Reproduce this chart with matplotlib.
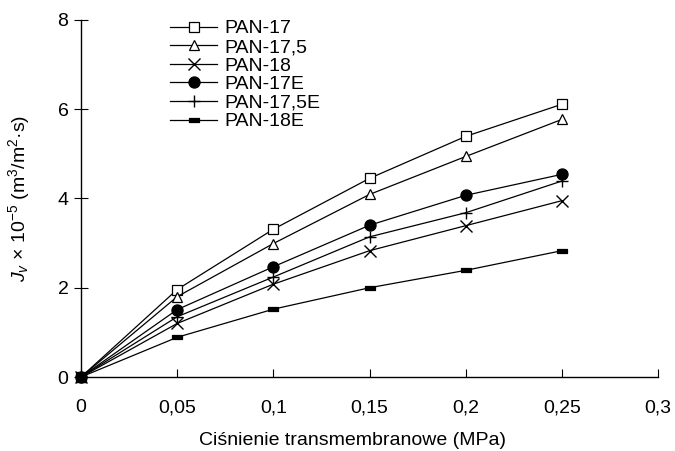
import matplotlib
matplotlib.use("Agg")
import matplotlib.pyplot as plt

plt.rcParams['font.family'] = ['Liberation Sans', 'DejaVu Sans']
plt.rcParams['mathtext.fontset'] = 'custom'
plt.rcParams['mathtext.rm'] = 'Liberation Sans'
plt.rcParams['mathtext.it'] = 'Liberation Sans:italic'

pressure = [0, 0.05, 0.1, 0.15, 0.2, 0.25]
pan17 = [0, 1.96, 3.31, 4.45, 5.39, 6.11]
pan175 = [0, 1.80, 2.99, 4.09, 4.94, 5.77]
pan18 = [0, 1.20, 2.08, 2.83, 3.39, 3.95]
pan17e = [0, 1.51, 2.47, 3.40, 4.07, 4.54]
pan175e = [0, 1.35, 2.24, 3.14, 3.68, 4.39]
pan18e = [0, 0.89, 1.52, 2.00, 2.39, 2.83]
labels = ['PAN-17', 'PAN-17,5', 'PAN-18', 'PAN-17E', 'PAN-17,5E', 'PAN-18E']
xticks = [0, 0.05, 0.1, 0.15, 0.2, 0.25, 0.3]
xticklabels = ['0', '0,05', '0,1', '0,15', '0,2', '0,25', '0,3']
yticks = [0, 2, 4, 6, 8]

FS = 14
rect = [(-1, -0.45), (1, -0.45), (1, 0.45), (-1, 0.45), (-1, -0.45)]
styles = [
    dict(marker='s', mfc='white', mec='black', ms=7.5),
    dict(marker='^', mfc='white', mec='black', ms=7.5),
    dict(marker='x', mec='black', ms=8, mew=1.0),
    dict(marker='o', mfc='black', mec='black', ms=8),
    dict(marker='+', mec='black', ms=9, mew=1.0),
    dict(marker=rect, mfc='black', mec='black', ms=7),
]
series = [pan17, pan175, pan18, pan17e, pan175e, pan18e]

fig = plt.figure(figsize=(6.75, 4.51), dpi=100)
ax = fig.add_axes([0.12, 0.164, 0.855, 0.792])
for ys, lab, st in zip(series, labels, styles):
    ax.plot(pressure, ys, color='black', lw=0.9, label=lab,
            mew=st.pop('mew', 0.9), clip_on=False, **st)

ax.set_xlim(0, 0.3)
ax.set_ylim(0, 8)
ax.set_xticks(xticks)
ax.set_xticklabels(xticklabels)
ax.set_yticks(yticks)
for s in ['top', 'right']:
    ax.spines[s].set_visible(False)
for s in ['left', 'bottom']:
    ax.spines[s].set_linewidth(1.0)
ax.tick_params(axis='x', direction='in', length=6, labelsize=FS, pad=16)
ax.tick_params(axis='y', direction='inout', length=10, labelsize=FS, pad=4)
ax.set_xlabel('Ciśnienie transmembranowe (MPa)', fontsize=FS, labelpad=12)
ax.xaxis.set_label_coords(0.47, -0.155)
ax.set_ylabel(r'$J_v$ × 10$^{-5}$ (m$^3$/m$^2$·s)', fontsize=FS, labelpad=18)

leg = ax.legend(loc='upper left', bbox_to_anchor=(0.155, 1.0), frameon=False,
                fontsize=FS, handlelength=2.4, handletextpad=0.35,
                labelspacing=0.05, borderaxespad=0, borderpad=0)

fig.savefig('out.png', dpi=100)
